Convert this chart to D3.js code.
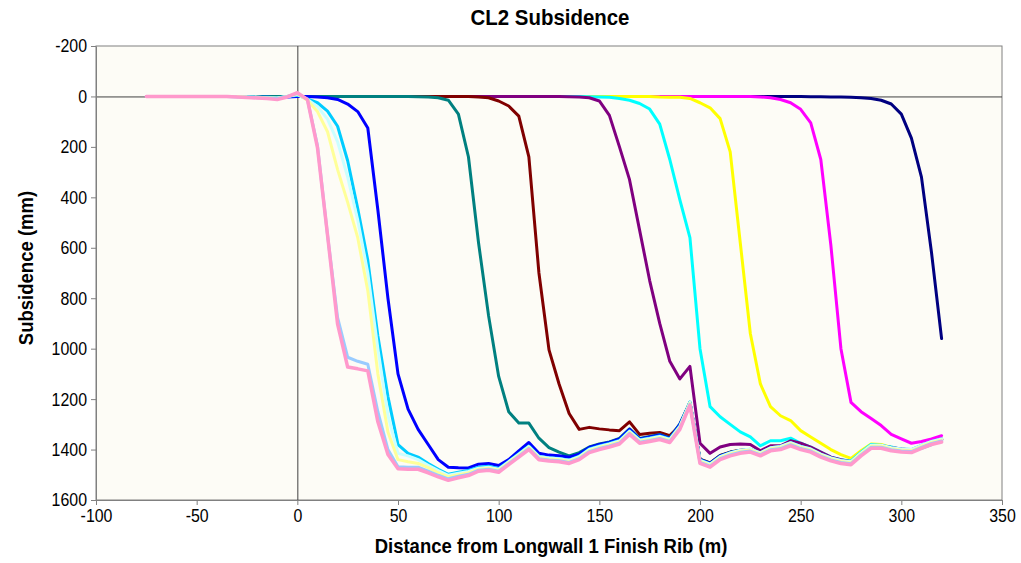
<!DOCTYPE html>
<html><head><meta charset="utf-8">
<script src="https://cdn.jsdelivr.net/npm/d3@7"></script>
<style>
body{margin:0;background:#fff}
text{font-family:"Liberation Sans",Arial,sans-serif;fill:#000}
</style>
</head><body>
<svg id="chart" width="1021" height="563"></svg>
<script>
// Distance from Longwall 1 Finish Rib (m)
const distances = [-75,-70,-65,-60,-55,-50,-45,-40,-35,-30,-25,-20,-15,-10,-5,
  0,5,10,15,20,25,30,35,40,45,
  50,55,60,65,70,75,80,85,90,95,
  100,105,110,115,120,125,130,135,140,145,
  150,155,160,165,170,175,180,185,190,195,
  200,205,210,215,220,225,230,235,240,245,
  250,255,260,265,270,275,280,285,290,295,
  300,305,310,315,320];

const xTicks = [-100,-50,0,50,100,150,200,250,300,350];
const yTicks = [-200,0,200,400,600,800,1000,1200,1400,1600];

// Subsidence (mm) per survey
const survey1 = [0,0,0,0,0,0,0,0,0,0,0,0,0,0,0,
  0,0,0,0,0,0,0,0,0,0,
  0,0,0,0,0,0,0,0,0,0,
  0,0,0,0,0,0,0,0,0,0,
  0,0,0,0,0,0,0,0,0,0,
  0,0,0,0,0,0,0,0,0,0,
  0,1,1,2,2,3,5,8,15,30,
  70,165,320,620,960];
const survey2 = [0,0,0,0,0,0,0,0,0,0,0,0,0,0,0,
  0,0,0,0,0,0,0,0,0,0,
  0,0,0,0,0,0,0,0,0,0,
  0,0,0,0,0,0,0,0,0,0,
  0,0,0,0,0,0,0,0,0,0,
  0,0,0,0,0,0,2,5,12,25,
  51,105,250,590,1000,1213,1250,1277,1305,1340,
  1358,1375,1368,1358,1345];
const survey3 = [0,0,0,0,0,0,0,0,0,0,0,0,0,0,0,
  0,0,0,0,0,0,0,0,0,0,
  0,0,0,0,0,0,0,0,0,0,
  0,0,0,0,0,0,0,0,0,0,
  0,0,0,0,0,0,2,3,3,8,
  25,45,88,220,580,940,1140,1230,1266,1285,
  1325,1350,1375,1400,1420,1435,1405,1378,1380,1392,
  1400,1405,1393,1378,1360];
const survey4 = [0,0,0,0,0,0,0,0,0,0,0,0,0,0,0,
  0,0,0,0,0,0,0,0,0,0,
  0,0,0,0,0,0,0,0,0,0,
  0,0,0,0,0,0,0,0,0,1,
  2,3,8,15,28,50,110,250,410,560,
  1000,1230,1270,1300,1330,1350,1385,1365,1365,1355,
  1375,1390,1410,1430,1440,1445,1410,1380,1385,1390,
  1400,1405,1395,1380,1360];
const survey5 = [0,0,0,0,0,0,0,0,0,0,0,0,0,0,0,
  0,0,0,0,0,0,0,0,0,0,
  0,0,0,0,0,0,0,0,0,0,
  0,0,0,0,0,0,0,1,2,5,
  18,75,200,330,530,730,900,1050,1120,1070,
  1375,1415,1390,1380,1378,1380,1405,1385,1385,1365,
  1375,1390,1410,1430,1440,1448,1415,1385,1385,1392,
  1398,1402,1390,1375,1358];
const survey6 = [0,0,0,0,0,0,0,0,0,0,0,0,0,0,0,
  0,0,0,0,0,0,0,0,0,0,
  0,0,0,0,0,0,0,0,2,5,
  18,38,78,240,700,1005,1140,1257,1320,1312,
  1318,1322,1325,1290,1340,1335,1332,1345,1305,1214,
  1438,1453,1423,1410,1403,1400,1413,1396,1390,1376,
  1390,1400,1420,1438,1446,1450,1416,1388,1388,1396,
  1403,1406,1390,1376,1360];
const survey7 = [0,0,0,0,0,0,0,0,0,0,0,0,0,0,0,
  0,0,0,0,0,0,0,0,0,0,
  0,0,1,2,5,15,70,240,580,870,
  1110,1250,1295,1295,1355,1392,1410,1425,1412,1390,
  1378,1370,1356,1318,1356,1348,1340,1354,1298,1213,
  1439,1454,1424,1411,1404,1401,1414,1397,1391,1377,
  1391,1401,1421,1439,1447,1451,1417,1389,1389,1397,
  1404,1407,1391,1377,1361];
const survey8 = [0,0,0,0,0,0,0,0,0,0,0,2,3,5,2,
  0,0,2,5,12,30,60,125,450,800,
  1100,1240,1320,1380,1440,1470,1472,1473,1458,1455,
  1463,1440,1405,1372,1415,1422,1425,1430,1418,1392,
  1380,1372,1358,1320,1358,1350,1342,1356,1300,1215,
  1440,1455,1425,1412,1405,1402,1415,1398,1392,1378,
  1392,1402,1422,1440,1448,1452,1418,1390,1390,1398,
  1405,1408,1392,1378,1362];
const survey9 = [0,0,0,0,0,0,0,0,0,0,0,2,3,5,0,
  -5,10,25,58,118,255,445,650,950,1190,
  1380,1415,1430,1455,1478,1498,1490,1483,1470,1466,
  1475,1447,1416,1386,1427,1432,1435,1442,1426,1398,
  1386,1376,1364,1326,1361,1354,1346,1358,1306,1212,
  1442,1457,1428,1413,1404,1399,1413,1393,1388,1373,
  1388,1398,1418,1433,1443,1448,1413,1383,1383,1393,
  1398,1400,1383,1368,1358];
const survey10 = [0,0,0,0,0,0,0,0,0,0,2,3,5,6,0,
  -8,12,40,90,180,320,490,700,1000,1265,
  1415,1425,1440,1462,1483,1502,1494,1487,1474,1470,
  1478,1448,1418,1388,1428,1433,1436,1443,1428,1400,
  1388,1378,1366,1328,1363,1356,1348,1360,1308,1213,
  1443,1458,1428,1413,1403,1398,1413,1393,1388,1373,
  1388,1398,1418,1433,1443,1448,1413,1383,1383,1393,
  1398,1400,1383,1368,1358];
const survey11 = [0,0,0,0,0,0,0,0,0,0,2,3,5,7,0,
  -10,15,60,140,290,420,560,770,1100,1330,
  1440,1448,1455,1472,1492,1508,1500,1492,1478,1474,
  1482,1452,1422,1392,1432,1437,1440,1447,1432,1404,
  1392,1382,1370,1332,1367,1360,1352,1364,1312,1217,
  1447,1462,1432,1417,1407,1402,1417,1397,1392,1377,
  1392,1402,1422,1437,1447,1452,1417,1387,1387,1397,
  1402,1404,1387,1372,1362];
const survey12 = [0,0,0,0,0,0,0,0,0,2,3,5,6,8,0,
  -12,12,195,550,877,1034,1050,1062,1250,1400,
  1468,1470,1470,1486,1502,1516,1506,1498,1482,1478,
  1486,1456,1426,1396,1436,1441,1444,1451,1436,1408,
  1396,1386,1374,1336,1371,1364,1356,1368,1316,1221,
  1451,1466,1436,1421,1411,1406,1421,1401,1396,1381,
  1396,1406,1426,1441,1451,1456,1421,1391,1391,1401,
  1406,1408,1391,1376,1366];
const survey13 = [0,0,0,0,0,0,0,0,0,2,4,6,8,12,2,
  -15,12,203,550,903,1073,1080,1088,1290,1420,
  1476,1478,1478,1492,1508,1522,1512,1503,1486,1482,
  1490,1460,1430,1400,1440,1445,1448,1455,1440,1412,
  1400,1390,1378,1340,1375,1368,1360,1372,1320,1225,
  1455,1470,1440,1425,1415,1410,1425,1405,1400,1385,
  1400,1410,1430,1445,1455,1460,1425,1395,1395,1405,
  1410,1412,1395,1380,1370];

const seriesValues = [survey1,survey2,survey3,survey4,survey5,survey6,survey7,
  survey8,survey9,survey10,survey11,survey12,survey13];
const seriesColors = ["#000080","#ff00ff","#ffff00","#00ffff","#800080","#800000",
  "#008080","#0000ff","#00ccff","#ccffff","#ffff99","#99ccff","#ff99cc"];

const m = {left:96, right:1002, top:46, bottom:500};
const svg = d3.select("#chart");

const x = d3.scaleLinear().domain([-100,350]).range([m.left,m.right]);
const y = d3.scaleLinear().domain([-200,1600]).range([m.top,m.bottom]);

// plot background
svg.append("rect").attr("x",m.left).attr("y",m.top)
  .attr("width",m.right-m.left).attr("height",m.bottom-m.top)
  .attr("fill","#fdfcf6").attr("stroke","#808080").attr("stroke-width",1);

// zero lines
svg.append("line").attr("x1",m.left).attr("x2",m.right)
  .attr("y1",y(0)+0.5).attr("y2",y(0)+0.5).attr("stroke","#404040").attr("stroke-width",1);
svg.append("line").attr("x1",x(0)+0.5).attr("x2",x(0)+0.5)
  .attr("y1",m.top).attr("y2",m.bottom).attr("stroke","#404040").attr("stroke-width",1);

const SX = 0.86;
const fmt = d => String(d);
// axes
const xAxis = svg.append("g").attr("transform",`translate(0,${m.bottom})`)
  .call(d3.axisBottom(x).tickValues(xTicks).tickFormat(fmt).tickSize(5).tickSizeOuter(0).tickPadding(4));
const yAxis = svg.append("g").attr("transform",`translate(${m.left},0)`)
  .call(d3.axisLeft(y).tickValues(yTicks).tickFormat(fmt).tickSize(5).tickSizeOuter(0).tickPadding(6));
[xAxis,yAxis].forEach(g=>{
  g.select(".domain").attr("stroke","#808080");
  g.selectAll(".tick line").attr("stroke","#808080");
  g.selectAll(".tick text").attr("font-size",18.5)
    .attr("font-family","Liberation Sans, Arial, sans-serif")
    .attr("transform",`scale(${SX},1)`);
});
yAxis.selectAll(".tick text").attr("x",-9/SX);

// lines
const line = d3.line().x((d,i)=>x(distances[i])).y(d=>y(d));
svg.append("g").selectAll("path").data(seriesValues).join("path")
  .attr("d",line).attr("fill","none")
  .attr("stroke",(d,i)=>seriesColors[i])
  .attr("stroke-width",(d,i)=>i===seriesValues.length-1?3.5:3)
  .attr("stroke-linejoin","round").attr("stroke-linecap","round");

// titles
svg.append("text").attr("transform",`translate(550,25) scale(0.95,1)`)
  .attr("text-anchor","middle").attr("font-weight","bold").attr("font-size",21.5)
  .text("CL2 Subsidence");
svg.append("text").attr("transform",`translate(551,553) scale(0.95,1)`)
  .attr("text-anchor","middle").attr("font-weight","bold").attr("font-size",19.5)
  .text("Distance from Longwall 1 Finish Rib (m)");
svg.append("text").attr("transform",`translate(33,268) rotate(-90) scale(0.95,1)`)
  .attr("text-anchor","middle").attr("font-weight","bold").attr("font-size",19.5)
  .text("Subsidence (mm)");
</script>
</body></html>
